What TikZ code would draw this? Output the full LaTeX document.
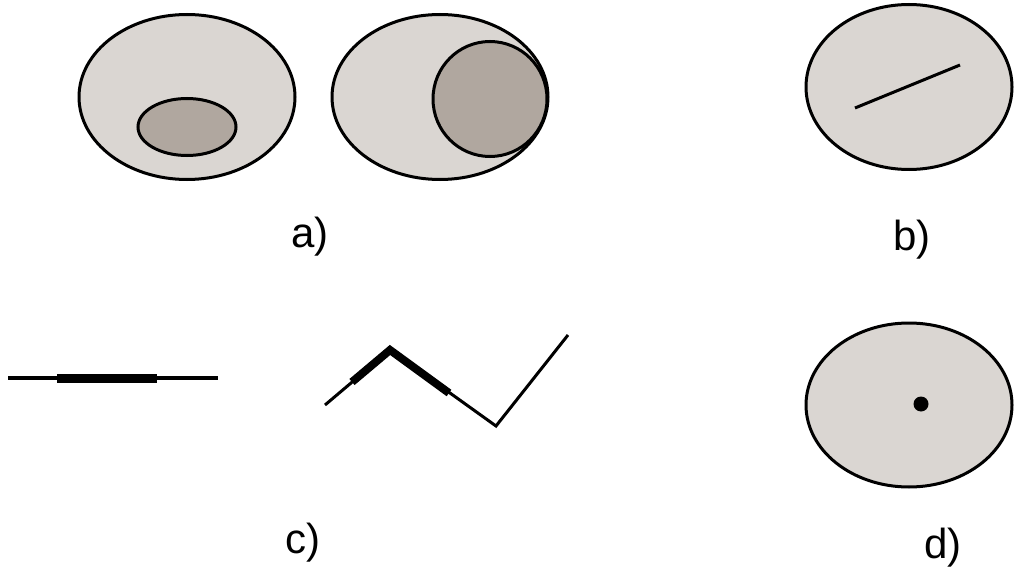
\documentclass[tikz,border=0pt]{standalone}
\usepackage{fontspec}
\setmainfont{Liberation Sans}
\usetikzlibrary{shapes.geometric}
\definecolor{lightfill}{HTML}{DAD6D2}
\definecolor{darkfill}{HTML}{B0A79F}
\tikzset{
  blob/.style={ellipse, draw=black, line width=3pt, fill=lightfill, inner sep=0pt},
  innerblob/.style={ellipse, draw=black, line width=3pt, fill=darkfill, inner sep=0pt},
  thinline/.style={line width=3pt, line join=miter},
  thickline/.style={line width=9pt},
  lbl/.style={font=\fontsize{42}{50}\selectfont, inner sep=0pt}
}
\begin{document}
\begin{tikzpicture}[x=1pt,y=-1pt]
\useasboundingbox (0,0) rectangle (1015,567);
% a)
\node[blob, minimum width=216pt, minimum height=165pt] (a1) at (187,97) {};
\node[innerblob, minimum width=98pt, minimum height=57pt] (a1in) at (187,127) {};
\node[blob, minimum width=216pt, minimum height=165pt] (a2) at (440,97) {};
\node[innerblob, minimum width=114pt, minimum height=115pt] (a2in) at (490,99) {};
\node[lbl] (la) at (310,237) {a)};
% b)
\node[blob, minimum width=206pt, minimum height=165pt] (b1) at (909,87) {};
\coordinate (b1s) at (855,108);
\coordinate (b1e) at (960,65);
\draw[thinline] (b1s) -- (b1e);
\node[lbl] (lb) at (912,240) {b)};
% c)
\coordinate (h1) at (8,378);
\coordinate (h2) at (218,378);
\coordinate (h3) at (57,378);
\coordinate (h4) at (157,378);
\draw[line width=3.5pt] (h1) -- (h2);
\draw[line width=9pt] (h3) -- (h4);
\coordinate (z1) at (325,405);
\coordinate (z2) at (390,350);
\coordinate (z3) at (496,426);
\coordinate (z4) at (568,335);
\coordinate (zt1) at (352,382);
\coordinate (zt2) at (449,393);
\draw[thinline] (z1) -- (z2) -- (z3) -- (z4);
\draw[line width=8pt, line join=miter] (zt1) -- (z2) -- (zt2);
\node[lbl] (lc) at (303,543) {c)};
% d)
\node[blob, minimum width=206pt, minimum height=164pt] (d1) at (909,405) {};
\node[circle, fill=black, minimum size=15pt, inner sep=0pt] (d1dot) at (921,404) {};
\node[lbl] (ld) at (943,548) {d)};
\end{tikzpicture}
\end{document}
